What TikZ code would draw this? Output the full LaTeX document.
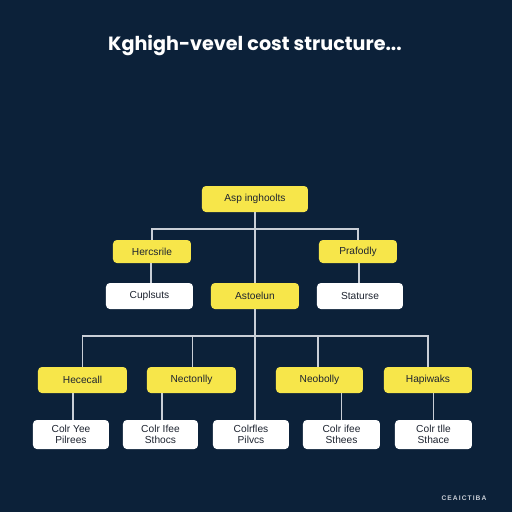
\documentclass[tikz,border=0pt]{standalone}
\usepackage{fontspec}
\setmainfont{Liberation Sans}
\newfontfamily\titlefont{Poppins}
\definecolor{bgnavy}{HTML}{0C2139}
\definecolor{ylw}{HTML}{F7E64A}
\definecolor{linec}{HTML}{C9CED6}
\definecolor{txtc}{HTML}{1E2430}
\tikzset{
  base/.style={rounded corners=2.2pt, inner sep=0pt, font=\fontsize{5.8}{6.6}\selectfont, text=txtc, align=center},
  ybox/.style={base, fill=ylw, minimum height=26*0.02cm},
  wbox/.style={base, fill=white, minimum height=26*0.02cm},
  wbox2/.style={base, fill=white, minimum height=29*0.02cm},
  conn/.style={draw=linec, line width=0.8pt},
}
\begin{document}
\begin{tikzpicture}[x=0.02cm,y=-0.02cm]
\fill[bgnavy] (0,0) rectangle (512,512);
\useasboundingbox (0,0) rectangle (512,512);
\node[font=\titlefont\bfseries\fontsize{10.9}{13}\selectfont, text=white] (title) at (255,45) {Kghigh-vevel cost structure...};
% level 0
\node[ybox, minimum width=106*0.02cm] (root) at (255,199) {Asp inghoolts};
% level 1
\node[ybox, minimum width=78*0.02cm, minimum height=23*0.02cm] (herc) at (152,251.5) {Hercsrile};
\node[ybox, minimum width=78*0.02cm, minimum height=23*0.02cm] (praf) at (358,251.5) {Prafodly};
% level 2
\node[wbox, minimum width=87*0.02cm] (cupl) at (149.5,296) {Cuplsuts};
\node[ybox, minimum width=88*0.02cm] (asto) at (255,296) {Astoelun};
\node[wbox, minimum width=86*0.02cm] (stat) at (360,296) {Staturse};
% level 3
\node[ybox, minimum width=89*0.02cm] (hece) at (82.5,380) {Hececall};
\node[ybox, minimum width=89*0.02cm] (nect) at (191.5,380) {Nectonlly};
\node[ybox, minimum width=87*0.02cm] (neob) at (319.5,380) {Neobolly};
\node[ybox, minimum width=88*0.02cm] (hapi) at (428,380) {Hapiwaks};
% level 4
\node[wbox2, minimum width=76*0.02cm] (w1) at (71,434.5) {Colr Yee\\Pilrees};
\node[wbox2, minimum width=75*0.02cm] (w2) at (160.5,434.5) {Colr Ifee\\Sthocs};
\node[wbox2, minimum width=76*0.02cm] (w3) at (251,434.5) {Colrfles\\Pilvcs};
\node[wbox2, minimum width=77*0.02cm] (w4) at (341.5,434.5) {Colr ifee\\Sthees};
\node[wbox2, minimum width=77*0.02cm] (w5) at (433.5,434.5) {Colr tlle\\Sthace};
% connectors
\coordinate (b1) at (255,229);
\coordinate (b2) at (255,336);
\draw[conn] (root.south) -- (asto.north);
\draw[conn] (herc.north) |- (b1) -| (praf.north);
\draw[conn] ([xshift=-1*0.02cm]herc.south) -- ([xshift=-1*0.02cm]herc.south |- cupl.north);
\draw[conn] ([xshift=1*0.02cm]praf.south) -- ([xshift=1*0.02cm]praf.south |- stat.north);
\draw[conn] (asto.south) -- ([xshift=4*0.02cm]w3.north);
\draw[conn] (hece.north) |- (b2) -| (hapi.north);
\draw[conn] ([xshift=1*0.02cm]nect.north) -- ([xshift=1*0.02cm]nect.north |- b2);
\draw[conn] ([xshift=-1.5*0.02cm]neob.north) -- ([xshift=-1.5*0.02cm]neob.north |- b2);
\draw[conn] ([xshift=2*0.02cm]w1.north) -- ([xshift=2*0.02cm]w1.north |- hece.south);
\draw[conn] ([xshift=1.5*0.02cm]w2.north) -- ([xshift=1.5*0.02cm]w2.north |- nect.south);
\draw[conn] (w4.north) -- (w4.north |- neob.south);
\draw[conn] (w5.north) -- (w5.north |- hapi.south);
% footer
\node[font=\fontsize{3.8}{4.5}\selectfont\bfseries, text=linec] (foot) at (464,498) {C\kern0.6pt E\kern0.6pt A\kern0.6pt I\kern0.6pt C\kern0.6pt T\kern0.6pt I\kern0.6pt B\kern0.6pt A};
\end{tikzpicture}
\end{document}
